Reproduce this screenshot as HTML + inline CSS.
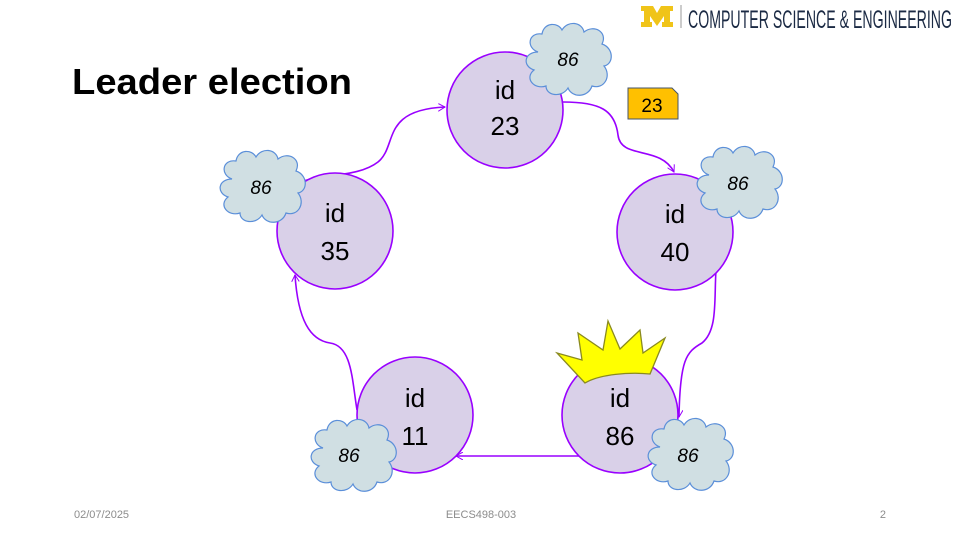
<!DOCTYPE html>
<html><head><meta charset="utf-8"><style>
body{margin:0;width:961px;height:540px;background:#fff;overflow:hidden;font-family:"Liberation Sans",sans-serif}
</style></head><body>
<svg width="961" height="540" xmlns="http://www.w3.org/2000/svg" style="position:absolute;left:0;top:0">
<defs>
<marker id="ar" markerWidth="8" markerHeight="8" refX="7" refY="4" orient="auto" markerUnits="userSpaceOnUse">
<path d="M0,0 L7,4 L0,8" fill="none" stroke="#9900ff" stroke-width="1"/></marker>
<g id="cloud">
<path d="M-30,-8 C-42,-12 -40,-28 -26,-26 C-24,-38 -10,-38 -6,-30 C0,-40 14,-38 16,-28 C26,-36 40,-28 34,-16 C46,-12 46,4 36,6 C44,16 36,30 24,26 C20,38 4,38 0,28 C-6,38 -22,36 -22,26 C-34,30 -44,18 -34,10 C-46,6 -44,-8 -30,-8 Z" fill="#d0dfe3" stroke="#5b8fd9" stroke-width="1.2"/>
</g>
</defs>
<path d="M641,6 h12 l4,7 l4,-7 h12 v5 h-3 v11 h3 v5 h-11 v-5 h2 v-6 l-7,10 l-7,-10 v6 h2 v5 h-11 v-5 h3 v-11 h-3z" fill="#f0c419"/>
<line x1="681" y1="5" x2="681" y2="28" stroke="#999" stroke-width="1"/>
<text x="688" y="28" font-family="Liberation Sans Narrow, Liberation Sans, sans-serif" font-size="25" fill="#1b2a44" textLength="264" lengthAdjust="spacingAndGlyphs">COMPUTER SCIENCE &amp; ENGINEERING</text>
<text x="72" y="94" font-size="36" font-weight="bold" fill="#000" textLength="280" lengthAdjust="spacingAndGlyphs">Leader election</text>
<g fill="none" stroke="#9900ff" stroke-width="1.6">
<path d="M303,181 C330,174 360,176 378,162 C398,146 380,110 445,107" marker-end="url(#ar)"/>
<path d="M563,102 C600,102 615,110 618,135 C621,160 660,145 674,172" marker-end="url(#ar)"/>
<path d="M716,270 C714,300 718,330 702,343 C686,352 680,360 679,417" marker-end="url(#ar)"/>
<path d="M580,456 L456,456" marker-end="url(#ar)"/>
<path d="M357,410 C352,380 352,346 330,343 C310,340 298,320 295,275" marker-end="url(#ar)"/>
</g>
<g fill="#d9d0e8" stroke="#9900ff" stroke-width="1.6">
<circle cx="505" cy="110" r="58"/>
<circle cx="335" cy="231" r="58"/>
<circle cx="675" cy="232" r="58"/>
<circle cx="415" cy="415" r="58"/>
<circle cx="620" cy="415" r="58"/>
</g>
<g font-size="26" fill="#000" text-anchor="middle">
<text x="505" y="99">id</text><text x="505" y="135">23</text>
<text x="335" y="222">id</text><text x="335" y="260">35</text>
<text x="675" y="223">id</text><text x="675" y="261">40</text>
<text x="415" y="407">id</text><text x="415" y="445">11</text>
<text x="620" y="407">id</text><text x="620" y="445">86</text>
</g>
<path d="M557,353 L582,360 L578,333 L603,350 L608,321 L620,349 L640,330 L643,353 L665,338 L650,374 C630,372 600,374 585,383 Z" fill="#ffff00" stroke="#8a8a20" stroke-width="1.3"/>
<use href="#cloud" transform="translate(568,60)"/>
<use href="#cloud" transform="translate(262,187)"/>
<use href="#cloud" transform="translate(739,183)"/>
<use href="#cloud" transform="translate(353,456)"/>
<use href="#cloud" transform="translate(690,455)"/>
<g font-size="19" font-style="italic" fill="#000" text-anchor="middle">
<text x="568" y="66">86</text>
<text x="261" y="194">86</text>
<text x="738" y="190">86</text>
<text x="349" y="462">86</text>
<text x="688" y="462">86</text>
</g>
<path d="M628,88 h44 l6,6 v25 h-50 z" fill="#ffc000" stroke="#44546a" stroke-width="1"/>
<text x="652" y="112" font-size="19" text-anchor="middle" fill="#000">23</text>
<g font-size="11" fill="#8c8c8c">
<text x="74" y="518">02/07/2025</text>
<text x="481" y="518" text-anchor="middle">EECS498-003</text>
<text x="886" y="518" text-anchor="end">2</text>
</g>
</svg>
</body></html>
